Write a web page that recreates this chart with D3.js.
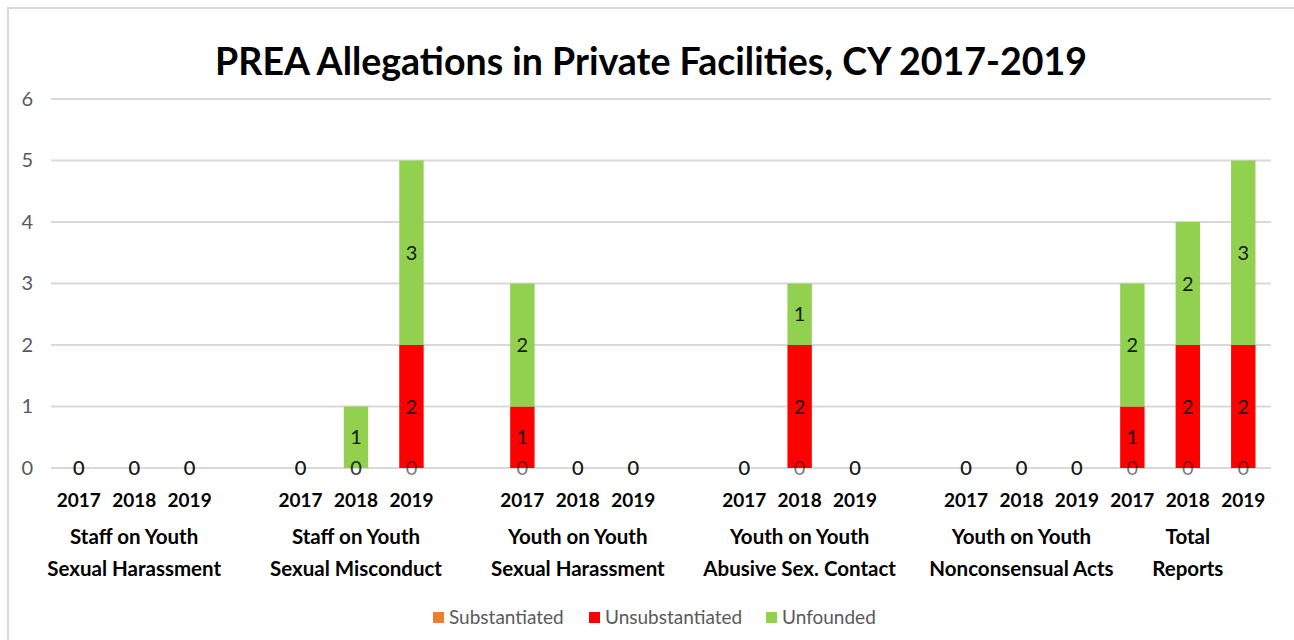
<!DOCTYPE html>
<html>
<head>
<meta charset="utf-8">
<script src="https://cdn.jsdelivr.net/npm/d3@7"></script>
<style>
  body { margin: 0; background: #fff; }
  text { font-family: Lato, "Open Sans", sans-serif; }
</style>
</head>
<body>
<div id="chart"></div>
<script>
// chart data
const groups = [
    ["Staff on Youth", "Sexual Harassment"],
    ["Staff on Youth", "Sexual Misconduct"],
    ["Youth on Youth", "Sexual Harassment"],
    ["Youth on Youth", "Abusive Sex. Contact"],
    ["Youth on Youth", "Nonconsensual Acts"],
    ["Total", "Reports"]
];
const years = ["2017", "2018", "2019"];
const seriesNames = ["Substantiated", "Unsubstantiated", "Unfounded"];
const seriesColors = ["#ed7d31", "#ff0000", "#92d050"];
const substantiated = [0, 0, 0, 0, 0, 0, 0, 0, 0, 0, 0, 0, 0, 0, 0, 0, 0, 0];
const unsubstantiated = [0, 0, 0, 0, 0, 2, 1, 0, 0, 0, 2, 0, 0, 0, 0, 1, 2, 2];
const unfounded = [0, 0, 0, 0, 1, 3, 2, 0, 0, 0, 1, 0, 0, 0, 0, 2, 2, 3];
const yTicks = [0, 1, 2, 3, 4, 5, 6];
const title = "PREA Allegations in Private Facilities, CY 2017-2019";

const W = 1294, H = 640;
const MARGIN = {LEFT: 51, RIGHT: 23, TOP: 99, BOTTOM: 172};

const svg = d3.select("#chart").append("svg")
    .attr("width", W)
    .attr("height", H);

svg.append("rect").attr("width", W).attr("height", H).attr("fill", "#fff");

// outer frame (cut off at right/bottom)
svg.append("path")
    .attr("d", `M8,${H} V8 H${W}`)
    .attr("fill", "none")
    .attr("stroke", "#d9d9d9")
    .attr("stroke-width", 2);

svg.append("text")
    .attr("x", 651)
    .attr("y", 75)
    .attr("text-anchor", "middle")
    .attr("font-size", 37.5)
    .attr("font-weight", "bold")
    .attr("fill", "#000")
    .text(title);

// one slot per bar, with an empty slot between groups (none before Total)
const rows = [];
const slots = [];
groups.forEach((g, gi) => {
    years.forEach((yr, yi) => {
        const key = gi + "-" + yr;
        slots.push(key);
        rows.push({key: key, group: gi, year: yr, i: gi * 3 + yi});
    });
    if (gi < groups.length - 2) slots.push("gap" + gi);
});

const x = d3.scaleBand()
    .domain(slots)
    .range([MARGIN.LEFT, W - MARGIN.RIGHT])
    .padding(0);
const barW = x.bandwidth() * 0.44;

const y = d3.scaleLinear()
    .domain([0, 6])
    .range([H - MARGIN.BOTTOM, MARGIN.TOP]);

// gridlines
svg.append("g").selectAll("line")
    .data(yTicks)
    .enter().append("line")
    .attr("x1", MARGIN.LEFT)
    .attr("x2", W - MARGIN.RIGHT)
    .attr("y1", d => y(d))
    .attr("y2", d => y(d))
    .attr("stroke", "#d9d9d9")
    .attr("stroke-width", 2);

const yAxis = svg.append("g")
    .attr("transform", `translate(${MARGIN.LEFT}, 0)`)
    .call(d3.axisLeft(y).tickValues(yTicks).tickFormat(d3.format("d")).tickSize(0).tickPadding(18));
yAxis.select(".domain").remove();
yAxis.selectAll("text")
    .attr("font-size", 20)
    .attr("fill", "#595959")
    .style("font-family", "Lato, sans-serif");

// stacked data
const table = rows.map(r => ({
    key: r.key,
    Substantiated: substantiated[r.i],
    Unsubstantiated: unsubstantiated[r.i],
    Unfounded: unfounded[r.i]
}));
const stacked = d3.stack().keys(seriesNames)(table);

const layers = svg.append("g").selectAll("g")
    .data(stacked)
    .enter().append("g")
    .attr("fill", (d, i) => seriesColors[i]);

layers.selectAll("rect")
    .data(d => d)
    .enter().append("rect")
    .attr("x", d => x(d.data.key) + (x.bandwidth() - barW) / 2)
    .attr("width", barW)
    .attr("y", d => y(d[1]))
    .attr("height", d => y(d[0]) - y(d[1]));

// value labels, Excel style: one per segment, zero ones sit on the base
const labels = svg.append("g").selectAll("g")
    .data(stacked)
    .enter().append("g");

labels.selectAll("text")
    .data(d => d.map(p => ({p: p, v: p[1] - p[0]})))
    .enter().append("text")
    .attr("x", d => x(d.p.data.key) + x.bandwidth() / 2)
    .attr("y", d => y((d.p[0] + d.p[1]) / 2))
    .attr("dy", "0.36em")
    .attr("text-anchor", "middle")
    .attr("font-size", 20)
    .attr("fill", "#000")
    .attr("fill-opacity", d => d.v === 0 ? 0.55 : 0.9)
    .text(d => d.v);

// x labels
const xl = svg.append("g");
xl.selectAll(".year")
    .data(rows)
    .enter().append("text")
    .attr("class", "year")
    .attr("x", d => x(d.key) + x.bandwidth() / 2)
    .attr("y", 507)
    .attr("text-anchor", "middle")
    .attr("font-size", 19)
    .attr("font-weight", "bold")
    .text(d => d.year);

const grpLab = xl.selectAll(".grp")
    .data(groups)
    .enter().append("text")
    .attr("class", "grp")
    .attr("x", (d, gi) => x(gi + "-2018") + x.bandwidth() / 2)
    .attr("text-anchor", "middle")
    .attr("font-size", 20.5)
    .attr("font-weight", "bold");
grpLab.append("tspan").attr("y", 544).attr("x", (d, gi) => x(gi + "-2018") + x.bandwidth() / 2).text(d => d[0]);
grpLab.append("tspan").attr("y", 576).attr("x", (d, gi) => x(gi + "-2018") + x.bandwidth() / 2).text(d => d[1]);

// legend
const legendX = [433, 589, 766];
const legend = svg.append("g").selectAll("g")
    .data(seriesNames)
    .enter().append("g")
    .attr("transform", (d, i) => `translate(${legendX[i]}, 612)`);
legend.append("rect")
    .attr("width", 11)
    .attr("height", 11)
    .attr("fill", (d, i) => seriesColors[i]);
legend.append("text")
    .attr("x", 16)
    .attr("y", 12)
    .attr("font-size", 19)
    .attr("fill", "#595959")
    .text(d => d);
</script>
</body>
</html>
